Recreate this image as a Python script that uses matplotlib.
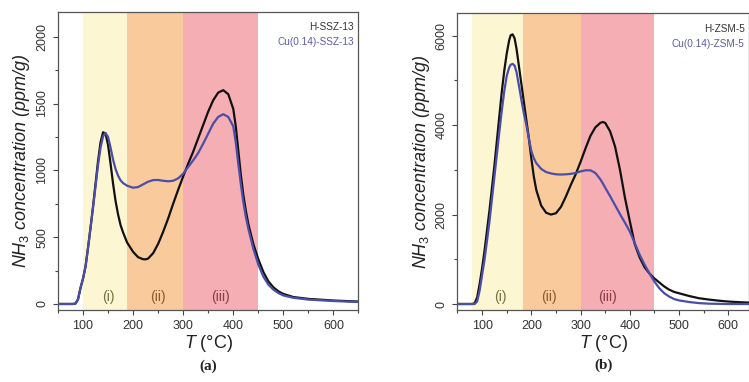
import matplotlib
matplotlib.use('Agg')
import matplotlib.pyplot as plt
from matplotlib.ticker import MultipleLocator

plt.rcParams['font.family'] = ['Liberation Sans', 'DejaVu Sans']
plt.rcParams['mathtext.fontset'] = 'custom'
plt.rcParams['mathtext.rm'] = 'Liberation Sans'
plt.rcParams['mathtext.it'] = 'Liberation Sans:italic'

# Panel (a): SSZ-13 TPD curves (T in degC, NH3 in ppm/g)
temp_a = [50, 60, 70, 80, 85, 90, 95, 100, 105, 110, 115, 120, 125, 130, 135, 140, 145,
          150, 155, 160, 165, 170, 175, 180, 188, 200, 210, 220, 225, 230, 240, 250, 260,
          270, 280, 290, 300, 310, 320, 330, 340, 350, 360, 370, 380, 390, 400, 405, 410,
          415, 420, 425, 430, 440, 450, 460, 470, 480, 490, 500, 520, 550, 600, 650]
h_ssz13 = [0, 0, 0, 0, 3, 35, 120, 190, 280, 420, 570, 730, 900, 1070, 1210, 1285, 1275,
           1190, 1050, 900, 770, 670, 590, 535, 460, 390, 350, 335, 334, 340, 380, 450, 540,
           640, 750, 855, 955, 1050, 1140, 1240, 1340, 1440, 1525, 1582, 1600, 1570, 1460, 1330, 1150,
           970, 820, 700, 600, 450, 335, 240, 170, 125, 95, 75, 52, 38, 26, 18]
cu_ssz13 = [0, 0, 0, 0, 3, 35, 120, 190, 280, 420, 570, 720, 880, 1040, 1170, 1255, 1280,
            1250, 1170, 1080, 1010, 960, 925, 905, 885, 870, 875, 895, 905, 915, 927, 928, 922,
            918, 922, 940, 975, 1025, 1075, 1130, 1200, 1275, 1350, 1400, 1420, 1400, 1330, 1210, 1050,
            900, 765, 655, 565, 415, 295, 205, 145, 108, 82, 64, 46, 33, 22, 15]

# Panel (b): ZSM-5 TPD curves
temp_b = [50, 60, 70, 80, 85, 90, 95, 100, 105, 110, 115, 120, 125, 130, 135, 140, 145,
          150, 155, 158, 162, 166, 170, 175, 180, 185, 190, 195, 200, 205, 210, 220, 230, 240,
          250, 260, 270, 280, 290, 300, 310, 320, 330, 340, 345, 350, 360, 370, 380, 390,
          400, 410, 420, 430, 440, 450, 460, 470, 480, 490, 500, 520, 540, 560, 580, 600, 620, 645]
h_zsm5 = [0, 0, 0, 0, 20, 150, 450, 800, 1200, 1650, 2100, 2600, 3100, 3650, 4200, 4750, 5220,
          5600, 5900, 6010, 6030, 5940, 5700, 5300, 4900, 4500, 4100, 3700, 3250, 2850, 2550, 2200, 2040, 2000,
          2030, 2170, 2400, 2660, 2900, 3180, 3480, 3760, 3950, 4050, 4070, 4050, 3860, 3520, 3000, 2380,
          1850, 1340, 1040, 820, 680, 570, 480, 390, 320, 270, 240, 180, 130, 100, 75, 55, 42, 30]
cu_zsm5 = [0, 0, 0, 0, 0, 60, 300, 650, 1000, 1420, 1850, 2350, 2850, 3350, 3850, 4330, 4760,
           5100, 5290, 5350, 5370, 5330, 5180, 4870, 4550, 4250, 4000, 3700, 3420, 3260, 3150, 3020, 2950, 2920,
           2900, 2895, 2900, 2910, 2930, 2965, 2990, 2990, 2930, 2790, 2700, 2600, 2410, 2210, 2010, 1820,
           1620, 1360, 1100, 880, 680, 500, 350, 240, 165, 110, 80, 45, 20, 8, 3, 0, 0, 0]

regions_a = [(100, 188), (188, 300), (300, 450)]
regions_b = [(80, 184), (184, 300), (300, 450)]
region_names = ['(i)', '(ii)', '(iii)']
label_x_a = [150, 250, 374]
label_x_b = [137, 236, 355]

shade_colors = ['#FDF6D3', '#F9CB9C', '#F5AEB4']
name_colors = ['#77703C', '#8B5A2B', '#8C3B4A']
black = '#111111'
blue = '#4B4EA8'

fig = plt.figure(figsize=(7.49, 3.82), dpi=100)
ax_a = fig.add_axes([0.0774, 0.1885, 0.4012, 0.7801])
ax_b = fig.add_axes([0.6108, 0.1885, 0.3892, 0.7766])


def draw_panel(ax, temp, h_vals, cu_vals, regions, label_x, names, ylim, ymajor, yminor, xmax, tag):
    for (lo, hi), c in zip(regions, shade_colors):
        ax.axvspan(lo, hi, color=c, lw=0, zorder=0)
    for name, x, c in zip(region_names, label_x, name_colors):
        ax.text(x, 0.045, name, transform=ax.get_xaxis_transform(), ha='center', va='center',
                color=c, fontsize=10)
    ax.plot(temp, h_vals, color=black, lw=1.6, zorder=3)
    ax.plot(temp, cu_vals, color=blue, lw=1.6, zorder=3)
    ax.set_xlim(50, xmax)
    ax.set_ylim(*ylim)
    ax.xaxis.set_major_locator(MultipleLocator(100))
    ax.xaxis.set_minor_locator(MultipleLocator(50))
    ax.yaxis.set_major_locator(MultipleLocator(ymajor))
    ax.yaxis.set_minor_locator(MultipleLocator(yminor))
    ax.tick_params(which='major', direction='out', length=3.5, width=0.8, colors='#444444',
                   labelsize=9, labelcolor='#333333')
    ax.tick_params(which='minor', direction='out', length=2, width=0.8, colors='#444444')
    for lab in ax.get_yticklabels():
        lab.set_rotation(90)
        lab.set_va('center')
    for s in ax.spines.values():
        s.set_color('#555555')
        s.set_linewidth(0.9)
    ax.set_xlabel(r'$T$ (°C)', fontsize=13, color='#222222', labelpad=1)
    ax.set_ylabel(r'$NH_3$ concentration (ppm/g)', fontsize=13, style='italic',
                  color='#222222', labelpad=3)
    ax.text(0.985, 0.965, names[0], transform=ax.transAxes, ha='right', va='top',
            fontsize=7.2, color='#333333')
    ax.text(0.985, 0.915, names[1], transform=ax.transAxes, ha='right', va='top',
            fontsize=7.2, color='#5A5AB0')
    ax.text(0.5, -0.165, tag, transform=ax.transAxes, ha='center', va='top',
            fontsize=11, fontweight='bold', family='Liberation Serif', color='#222222')


draw_panel(ax_a, temp_a, h_ssz13, cu_ssz13, regions_a, label_x_a,
           ['H-SSZ-13', 'Cu(0.14)-SSZ-13'], (-45, 2185), 500, 250, 650, '(a)')
draw_panel(ax_b, temp_b, h_zsm5, cu_zsm5, regions_b, label_x_b,
           ['H-ZSM-5', 'Cu(0.14)-ZSM-5'], (-134, 6500), 2000, 1000, 642, '(b)')

fig.savefig('out.png', dpi=100)
